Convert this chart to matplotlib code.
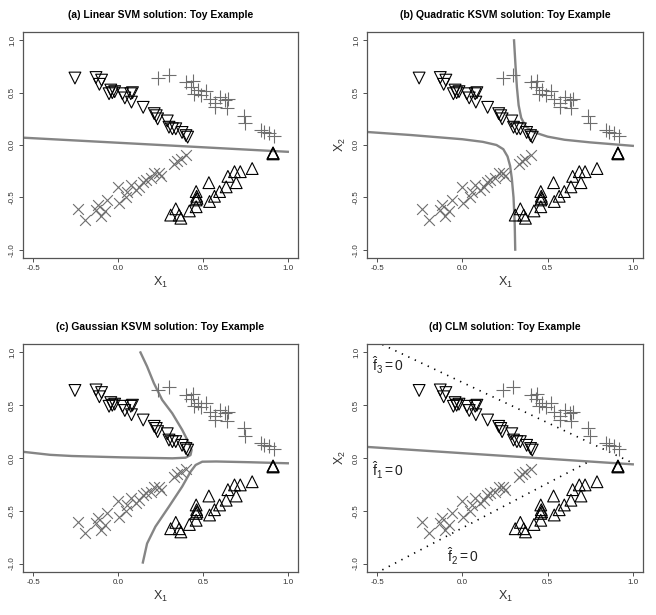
import matplotlib
matplotlib.use("Agg")
from matplotlib import pyplot as plt

# toy data: four classes (same points in every panel)
dn_x = [-0.254, -0.13, -0.097, -0.11, -0.043, -0.034, -0.053, -0.02, 0.026, 0.04, 0.075, 0.085,
        0.079, 0.148, 0.213, 0.233, 0.225, 0.29, 0.30, 0.32, 0.34, 0.377, 0.40, 0.41]
dn_y = [0.64, 0.645, 0.62, 0.58, 0.525, 0.50, 0.49, 0.51, 0.49, 0.45, 0.49, 0.50,
        0.41, 0.36, 0.30, 0.25, 0.28, 0.23, 0.17, 0.155, 0.155, 0.12, 0.09, 0.075]

up_x = [0.913, 0.913, 0.913, 0.79, 0.72, 0.686, 0.647, 0.696, 0.637, 0.598, 0.568, 0.539,
        0.535, 0.46, 0.463, 0.46, 0.465, 0.46, 0.42, 0.34, 0.31, 0.36, 0.37]
up_y = [-0.08, -0.085, -0.075, -0.225, -0.255, -0.255, -0.30, -0.36, -0.40, -0.445, -0.49, -0.54,
        -0.36, -0.445, -0.49, -0.525, -0.51, -0.59, -0.63, -0.61, -0.67, -0.67, -0.70]

pl_x = [0.237, 0.298, 0.40, 0.44, 0.43, 0.45, 0.47, 0.52, 0.49, 0.54, 0.57, 0.57, 0.60, 0.63,
        0.65, 0.64, 0.74, 0.75, 0.84, 0.86, 0.89, 0.92]
pl_y = [0.64, 0.67, 0.60, 0.61, 0.555, 0.49, 0.525, 0.52, 0.48, 0.44, 0.40, 0.36, 0.455, 0.43,
        0.44, 0.355, 0.28, 0.21, 0.14, 0.12, 0.11, 0.09]

cr_x = [-0.237, -0.195, -0.13, -0.12, -0.10, -0.077, -0.063, 0.0, 0.006, 0.045, 0.055, 0.075,
        0.104, 0.124, 0.144, 0.164, 0.193, 0.213, 0.239, 0.252, 0.33, 0.35, 0.37, 0.40]
cr_y = [-0.61, -0.715, -0.62, -0.57, -0.68, -0.635, -0.525, -0.405, -0.555, -0.50, -0.445, -0.38,
        -0.43, -0.40, -0.35, -0.335, -0.32, -0.27, -0.27, -0.30, -0.18, -0.15, -0.13, -0.10]

# (a) linear SVM boundary
lin_x = [-0.56, 1.0]
lin_y = [0.07, -0.065]

# (b) quadratic KSVM boundary, two branches
quad1_x = [-0.565, -0.3, 0.0, 0.12, 0.2, 0.24, 0.265, 0.28, 0.29, 0.30, 0.307, 0.31]
quad1_y = [0.125, 0.095, 0.055, 0.03, 0.0, -0.04, -0.11, -0.2, -0.32, -0.5, -0.75, -1.0]
quad2_x = [0.303, 0.312, 0.32, 0.33, 0.345, 0.37, 0.415, 0.5, 0.6, 0.75, 1.0]
quad2_y = [1.0, 0.75, 0.55, 0.38, 0.26, 0.18, 0.125, 0.08, 0.05, 0.025, -0.008]

# (c) gaussian KSVM boundary, two branches
gau1_x = [-0.567, -0.4, -0.272, 0.024, 0.32, 0.398, 0.427, 0.433, 0.418, 0.378, 0.319, 0.26,
          0.211, 0.171, 0.132]
gau1_y = [0.06, 0.03, 0.019, 0.006, -0.003, 0.003, 0.028, 0.076, 0.14, 0.266, 0.424, 0.55,
          0.709, 0.867, 1.0]
gau2_x = [0.146, 0.171, 0.22, 0.30, 0.378, 0.427, 0.457, 0.496, 0.578, 0.775, 1.0]
gau2_y = [-0.99, -0.81, -0.65, -0.46, -0.27, -0.13, -0.066, -0.035, -0.033, -0.04, -0.05]

# (d) CLM boundaries
f1_x = [-0.56, 1.0]
f1_y = [0.105, -0.06]
f2_x = [-0.47, 0.73]
f2_y = [-1.06, -0.045]
f3_x = [-0.47, 0.99]
f3_y = [1.075, -0.04]

titles = ["(a) Linear SVM solution: Toy Example",
          "(b) Quadratic KSVM solution: Toy Example",
          "(c) Gaussian KSVM solution: Toy Example",
          "(d) CLM solution: Toy Example"]

plt.rcParams['font.family'] = ['Liberation Sans', 'DejaVu Sans']
plt.rcParams['axes.unicode_minus'] = False
plt.rcParams['mathtext.fontset'] = 'custom'
plt.rcParams['mathtext.rm'] = 'Liberation Sans'
plt.rcParams['mathtext.it'] = 'Liberation Sans'

fig = plt.figure(figsize=(6.56, 6.15), dpi=100)
W, H = 656, 615
boxes = [(23, 32, 298, 258), (367, 32, 643, 258), (23, 344, 298, 572), (367, 344, 643, 572)]

line_col = '#858585'
pt_col = '#6e6e6e'

axes = []
for (l, t, r, b), title in zip(boxes, titles):
    ax = fig.add_axes([l / W, (H - b) / H, (r - l) / W, (b - t) / H])
    ax.scatter(dn_x, dn_y, marker='v', s=72, facecolors='none', edgecolors='black', linewidths=0.8, zorder=3)
    ax.scatter(up_x, up_y, marker='^', s=72, facecolors='none', edgecolors='black', linewidths=0.8, zorder=3)
    ax.scatter(pl_x, pl_y, marker='+', s=95, color=pt_col, linewidths=0.8, zorder=3)
    ax.scatter(cr_x, cr_y, marker='x', s=60, color=pt_col, linewidths=0.8, zorder=3)
    ax.set_xlim(-0.56, 1.06)
    ax.set_ylim(-1.08, 1.08)
    ax.set_xticks([-0.5, 0.0, 0.5, 1.0])
    ax.set_xticklabels(['-0.5', '0.0', '0.5', '1.0'])
    ax.set_yticks([-1.0, -0.5, 0.0, 0.5, 1.0])
    ax.set_yticklabels(['-1.0', '-0.5', '0.0', '0.5', '1.0'], rotation=90, va='center')
    ax.tick_params(labelsize=5.8, length=3, width=0.6, colors='#333333', pad=2)
    for sp in ax.spines.values():
        sp.set_color('#555555')
        sp.set_linewidth(0.9)
    ax.set_xlabel(r'$\mathrm{X_1}$', fontsize=9, color='#333333', labelpad=2)
    ax.set_ylabel(r'$\mathrm{X_2}$', fontsize=9, color='#333333', labelpad=4)
    ax.set_title(title, fontsize=7.5, fontweight='bold',
                 family=['Liberation Sans Narrow', 'Liberation Sans'], pad=10)
    axes.append(ax)

ax_a, ax_b, ax_c, ax_d = axes
ax_a.plot(lin_x, lin_y, color=line_col, lw=1.7)
ax_b.plot(quad1_x, quad1_y, color=line_col, lw=1.7)
ax_b.plot(quad2_x, quad2_y, color=line_col, lw=1.7)
ax_c.plot(gau1_x, gau1_y, color=line_col, lw=1.7)
ax_c.plot(gau2_x, gau2_y, color=line_col, lw=1.7)
ax_d.plot(f1_x, f1_y, color=line_col, lw=1.7)
ax_d.plot(f2_x, f2_y, color='black', lw=1.2, linestyle=(0, (0.8, 3.5)))
ax_d.plot(f3_x, f3_y, color='black', lw=1.2, linestyle=(0, (0.8, 3.5)))
ax_d.text(-0.53, 0.88, r'$\hat{\mathrm{f}}_3=0$', fontsize=10, va='center', color='#222222')
ax_d.text(-0.53, -0.12, r'$\hat{\mathrm{f}}_1=0$', fontsize=10, va='center', color='#222222')
ax_d.text(-0.09, -0.93, r'$\hat{\mathrm{f}}_2=0$', fontsize=10, va='center', color='#222222')

plt.savefig('out.png', dpi=100)
